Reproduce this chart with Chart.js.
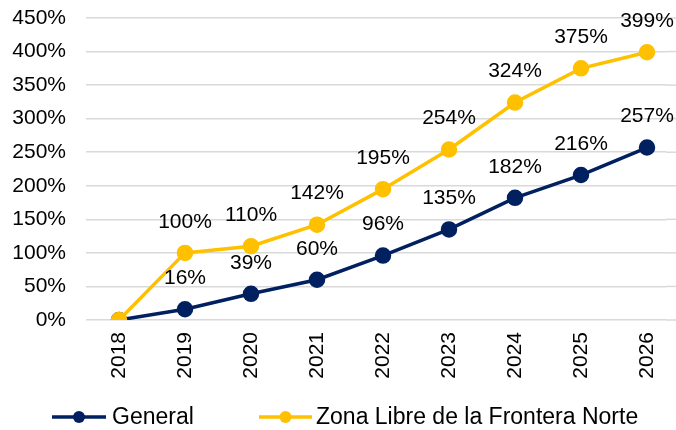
<!DOCTYPE html>
<html>
<head>
<meta charset="utf-8">
<script src="https://cdn.jsdelivr.net/npm/chart.js@4/dist/chart.umd.min.js"></script>
<style>
  html, body { margin: 0; padding: 0; background: #fff; }
  #wrap { width: 676px; height: 430px; position: relative; }
</style>
</head>
<body>
<div id="wrap"><canvas id="chart"></canvas></div>
<script>
const years = ['2018', '2019', '2020', '2021', '2022', '2023', '2024', '2025', '2026'];
const general = [0, 16, 39, 60, 96, 135, 182, 216, 257];
const zonaLibre = [0, 100, 110, 142, 195, 254, 324, 375, 399];
const yTicks = [0, 50, 100, 150, 200, 250, 300, 350, 400, 450];

const FONT = "'Liberation Sans', Arial, sans-serif";
const NAVY = '#002060';
const GOLD = '#FFC000';
const GRID = '#d9d9d9';

// value labels above each point (skip the 2018 base year)
const pointLabels = {
    id: 'pointLabels',
    afterDatasetsDraw(chart) {
        const ctx = chart.ctx;
        ctx.save();
        ctx.font = '21px ' + FONT;
        ctx.fillStyle = '#000';
        ctx.textAlign = 'center';
        ctx.textBaseline = 'middle';
        chart.data.datasets.forEach((ds, i) => {
            const meta = chart.getDatasetMeta(i);
            meta.data.forEach((pt, j) => {
                if (j === 0) return;
                ctx.fillText(ds.data[j].y + '%', pt.x, pt.y - 31);
            });
        });
        ctx.restore();
    }
};

// gridlines in the original run to the right edge
const gridToEdge = {
    id: 'gridToEdge',
    beforeDatasetsDraw(chart) {
        const ctx = chart.ctx;
        const yScale = chart.scales.y;
        ctx.save();
        ctx.strokeStyle = GRID;
        ctx.lineWidth = 1.5;
        yScale.ticks.forEach(t => {
            const y = yScale.getPixelForValue(t.value);
            ctx.beginPath();
            ctx.moveTo(chart.chartArea.right, y);
            ctx.lineTo(chart.width, y);
            ctx.stroke();
        });
        ctx.restore();
    }
};

// legend: line with a dot, like the original
const lineLegend = {
    id: 'lineLegend',
    afterDraw(chart) {
        const ctx = chart.ctx;
        const y = 417;
        const items = [
            { label: 'General', color: NAVY, x0: 52, x1: 106, tx: 112 },
            { label: 'Zona Libre de la Frontera Norte', color: GOLD, x0: 259, x1: 312, tx: 316 }
        ];
        ctx.save();
        items.forEach(it => {
            ctx.strokeStyle = it.color;
            ctx.lineWidth = 3.5;
            ctx.beginPath();
            ctx.moveTo(it.x0, y);
            ctx.lineTo(it.x1, y);
            ctx.stroke();
            ctx.fillStyle = it.color;
            ctx.beginPath();
            ctx.arc((it.x0 + it.x1) / 2, y, 6, 0, Math.PI * 2);
            ctx.fill();
            ctx.fillStyle = '#000';
            ctx.font = '23px ' + FONT;
            ctx.textAlign = 'left';
            ctx.textBaseline = 'middle';
            ctx.fillText(it.label, it.tx, y + 1);
        });
        ctx.restore();
    }
};

const toPoints = arr => arr.map((v, i) => ({ x: i, y: v }));

new Chart(document.getElementById('chart'), {
    type: 'line',
    data: {
        datasets: [
            {
                label: 'General',
                data: toPoints(general),
                borderColor: NAVY,
                backgroundColor: NAVY,
                borderWidth: 3.5,
                pointRadius: 6.5,
                pointHoverRadius: 6.5,
                order: 1
            },
            {
                label: 'Zona Libre de la Frontera Norte',
                data: toPoints(zonaLibre),
                borderColor: GOLD,
                backgroundColor: GOLD,
                borderWidth: 3.5,
                pointRadius: 6.5,
                pointHoverRadius: 6.5,
                order: 0
            }
        ]
    },
    options: {
        responsive: true,
        maintainAspectRatio: false,
        animation: false,
        layout: { padding: { top: 18, right: 0, bottom: 42, left: 0 } },
        plugins: {
            legend: { display: false },
            tooltip: { enabled: false }
        },
        scales: {
            x: {
                type: 'linear',
                min: -0.5,
                max: 8.288,
                afterBuildTicks: axis => {
                    axis.ticks = years.map((_, i) => ({ value: i }));
                },
                afterFit: axis => {
                    axis.height = 68;
                    axis.paddingRight = 0;
                    axis.paddingLeft = 0;
                },
                grid: { display: false, drawTicks: false },
                border: { display: false },
                ticks: {
                    autoSkip: false,
                    minRotation: 90,
                    maxRotation: 90,
                    padding: 12,
                    color: '#000',
                    font: { family: FONT, size: 21 },
                    callback: v => years[v]
                }
            },
            y: {
                min: 0,
                max: 450,
                afterBuildTicks: axis => {
                    axis.ticks = yTicks.map(v => ({ value: v }));
                },
                afterFit: axis => {
                    axis.width = 86;
                    axis.paddingTop = 0;
                    axis.paddingBottom = 0;
                },
                grid: { color: GRID, lineWidth: 1.5, drawTicks: false },
                border: { display: false },
                ticks: {
                    padding: 20,
                    color: '#000',
                    font: { family: FONT, size: 21 },
                    callback: v => v + '%'
                }
            }
        }
    },
    plugins: [gridToEdge, pointLabels, lineLegend]
});
</script>
</body>
</html>
